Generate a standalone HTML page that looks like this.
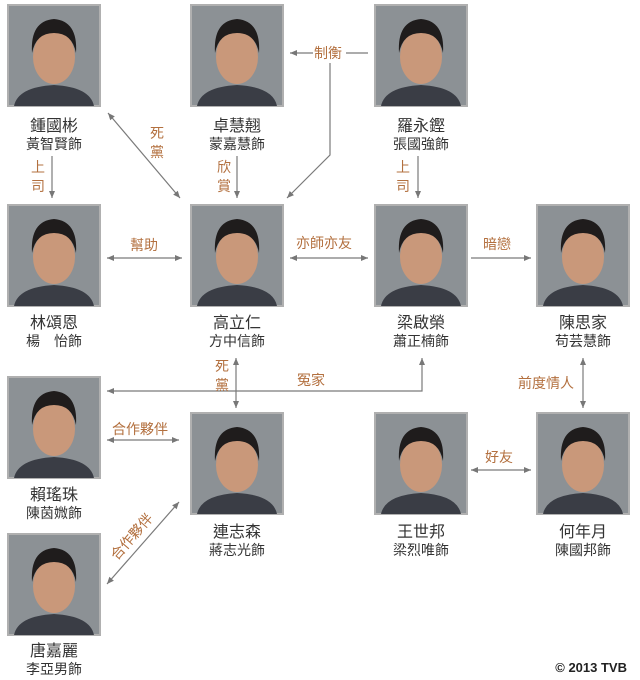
<!DOCTYPE html>
<html><head><meta charset="utf-8"><style>
html,body{margin:0;padding:0;background:#fff;}
svg{display:block;}
.n{font-family:"Liberation Sans","Noto Sans CJK TC",sans-serif;fill:#333;text-anchor:middle;}
.l{font-family:"Liberation Sans","Noto Sans CJK TC",sans-serif;fill:#b3703f;font-size:14px;}
</style></head><body>
<svg width="640" height="680" viewBox="0 0 640 680" xmlns="http://www.w3.org/2000/svg">
<defs>
<marker id="a" markerWidth="8" markerHeight="8" refX="7" refY="4" orient="auto-start-reverse" markerUnits="userSpaceOnUse">
<path d="M0,1 L7,4 L0,7 z" fill="#777"/></marker>
<g id="p">
<rect x="0" y="0" width="92" height="101" fill="#8c9195" stroke="#b0b0b0" stroke-width="2"/>
<path d="M6,101 Q10,82 46,80 Q82,82 86,101 z" fill="#3a3d45"/>
<ellipse cx="46" cy="52" rx="21" ry="27" fill="#c9987a"/>
<path d="M24,48 Q22,16 46,14 Q70,16 68,48 Q64,28 46,28 Q28,28 24,48 z" fill="#1f1c1c"/>
</g>
</defs>
<g>
<use href="#p" x="8" y="5"/><use href="#p" x="191" y="5"/><use href="#p" x="375" y="5"/>
<use href="#p" x="8" y="205"/><use href="#p" x="191" y="205"/><use href="#p" x="375" y="205"/><use href="#p" x="537" y="205"/>
<use href="#p" x="8" y="377"/><use href="#p" x="191" y="413"/><use href="#p" x="375" y="413"/><use href="#p" x="537" y="413"/>
<use href="#p" x="8" y="534"/>
</g>
<g class="n">
<text x="54" y="131" font-size="16">鍾國彬</text><text x="54" y="149" font-size="14">黃智賢飾</text>
<text x="237" y="131" font-size="16">卓慧翹</text><text x="237" y="149" font-size="14">蒙嘉慧飾</text>
<text x="421" y="131" font-size="16">羅永鏗</text><text x="421" y="149" font-size="14">張國強飾</text>
<text x="54" y="328" font-size="16">林頌恩</text><text x="54" y="346" font-size="14">楊　怡飾</text>
<text x="237" y="328" font-size="16">高立仁</text><text x="237" y="346" font-size="14">方中信飾</text>
<text x="421" y="328" font-size="16">梁啟榮</text><text x="421" y="346" font-size="14">蕭正楠飾</text>
<text x="583" y="328" font-size="16">陳思家</text><text x="583" y="346" font-size="14">苟芸慧飾</text>
<text x="54" y="500" font-size="16">賴瑤珠</text><text x="54" y="518" font-size="14">陳茵媺飾</text>
<text x="237" y="537" font-size="16">連志森</text><text x="237" y="555" font-size="14">蔣志光飾</text>
<text x="421" y="537" font-size="16">王世邦</text><text x="421" y="555" font-size="14">梁烈唯飾</text>
<text x="583" y="537" font-size="16">何年月</text><text x="583" y="555" font-size="14">陳國邦飾</text>
<text x="54" y="656" font-size="16">唐嘉麗</text><text x="54" y="674" font-size="14">李亞男飾</text>
</g>
<g stroke="#7a7a7a" stroke-width="1.2" fill="none">
<line x1="52" y1="156" x2="52" y2="198" marker-end="url(#a)"/>
<line x1="108" y1="113" x2="180" y2="198" marker-start="url(#a)" marker-end="url(#a)"/>
<line x1="237" y1="156" x2="237" y2="198" marker-end="url(#a)"/>
<line x1="313" y1="53" x2="290" y2="53" marker-end="url(#a)"/>
<line x1="346" y1="53" x2="368" y2="53"/>
<polyline points="330,63 330,155 287,198" marker-end="url(#a)"/>
<line x1="418" y1="156" x2="418" y2="198" marker-end="url(#a)"/>
<line x1="107" y1="258" x2="182" y2="258" marker-start="url(#a)" marker-end="url(#a)"/>
<line x1="290" y1="258" x2="368" y2="258" marker-start="url(#a)" marker-end="url(#a)"/>
<line x1="471" y1="258" x2="531" y2="258" marker-end="url(#a)"/>
<polyline points="107,391 422,391 422,358" marker-start="url(#a)" marker-end="url(#a)"/>
<line x1="236" y1="358" x2="236" y2="408" marker-start="url(#a)" marker-end="url(#a)"/>
<line x1="583" y1="358" x2="583" y2="408" marker-start="url(#a)" marker-end="url(#a)"/>
<line x1="107" y1="440" x2="179" y2="440" marker-start="url(#a)" marker-end="url(#a)"/>
<line x1="179" y1="502" x2="107" y2="584" marker-start="url(#a)" marker-end="url(#a)"/>
<line x1="471" y1="470" x2="531" y2="470" marker-start="url(#a)" marker-end="url(#a)"/>
</g>
<g class="l">
<text x="31" y="172">上</text><text x="31" y="191">司</text>
<text x="150" y="138">死</text><text x="150" y="157">黨</text>
<text x="217" y="172">欣</text><text x="217" y="191">賞</text>
<text x="314" y="58">制衡</text>
<text x="396" y="172">上</text><text x="396" y="191">司</text>
<text x="130" y="250">幫助</text>
<text x="296" y="248">亦師亦友</text>
<text x="483" y="249">暗戀</text>
<text x="215" y="371">死</text><text x="215" y="390">黨</text>
<text x="297" y="385">冤家</text>
<text x="518" y="388">前度情人</text>
<text x="112" y="434">合作夥伴</text>
<text x="485" y="462">好友</text>
<text x="0" y="0" transform="translate(117,561) rotate(-49)">合作夥伴</text>
</g>
<text x="627" y="672" text-anchor="end" font-family="Liberation Sans,sans-serif" font-weight="bold" font-size="13" fill="#222">© 2013 TVB</text>
</svg>
</body></html>
